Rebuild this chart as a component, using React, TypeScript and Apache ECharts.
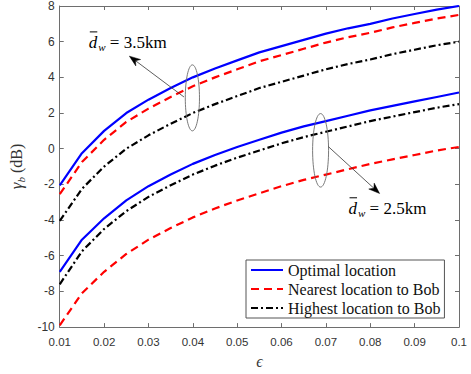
import React, { useEffect, useRef } from 'react';
import * as echarts from 'echarts';

// epsilon values (x axis)
const eps = [0.01, 0.015, 0.02, 0.025, 0.03, 0.035, 0.04, 0.045, 0.05, 0.055, 0.06, 0.065, 0.07, 0.075, 0.08, 0.085, 0.09, 0.095, 0.1];

// d_w = 3.5 km group
const optimal35 = [-2.05, -0.25, 1.0, 2.0, 2.75, 3.4, 4.0, 4.5, 4.95, 5.4, 5.75, 6.1, 6.45, 6.75, 7.0, 7.3, 7.55, 7.8, 8.0];
const nearest35 = [-2.55, -0.75, 0.5, 1.5, 2.25, 2.9, 3.5, 4.0, 4.45, 4.9, 5.25, 5.6, 5.95, 6.25, 6.5, 6.8, 7.05, 7.3, 7.5];
const highest35 = [-4.05, -2.25, -1.0, 0.0, 0.75, 1.4, 2.0, 2.5, 2.95, 3.4, 3.75, 4.1, 4.45, 4.75, 5.0, 5.3, 5.55, 5.8, 6.0];

// d_w = 2.5 km group
const optimal25 = [-6.9, -5.1, -3.9, -2.9, -2.1, -1.45, -0.85, -0.35, 0.1, 0.5, 0.9, 1.25, 1.55, 1.85, 2.15, 2.4, 2.65, 2.9, 3.15];
const nearest25 = [-9.9, -8.1, -6.9, -5.9, -5.1, -4.45, -3.85, -3.35, -2.9, -2.5, -2.1, -1.75, -1.45, -1.15, -0.85, -0.6, -0.35, -0.1, 0.1];
const highest25 = [-7.6, -5.75, -4.5, -3.5, -2.7, -2.05, -1.45, -0.95, -0.5, -0.1, 0.3, 0.65, 0.95, 1.25, 1.55, 1.8, 2.05, 2.3, 2.5];

const legendNames = ['Optimal location', 'Nearest location to Bob', 'Highest location to Bob'];

// annotation anchors in data coordinates
const ellipses = [
  { cx: 0.0399, cy: 2.85, x1: 0.0383, y2: 1.0 },
  { cx: 0.0688, cy: -0.09, x1: 0.0670, y2: -2.15 },
];
const arrows = [
  { from: [0.0380, 2.9], to: [0.0257, 5.19] },
  { from: [0.0705, 0.13], to: [0.0821, -2.51] },
];
const labels = [
  { at: [0.01655, 5.96], value: '3.5km' },
  { at: [0.0751, -3.34], value: '2.5km' },
];

const AXIS_COLOR = '#6e6e6e';
const LABEL_COLOR = '#333333';
const SERIF = '"Liberation Serif", "Times New Roman", serif';
const SANS = '"Liberation Sans", Arial, Helvetica, sans-serif';

const solid = { color: '#0000ff', width: 2.2, type: 'solid' as const };
const dashed = { color: '#ff0000', width: 2.2, type: [8, 5] as any };
const dashDot = { color: '#000000', width: 2.2, type: [7, 3, 2, 3] as any };

function mk(name: string, vals: number[], ls: any) {
  return {
    type: 'line',
    name,
    data: eps.map((e, i) => [e, vals[i]]),
    symbol: 'none',
    showSymbol: false,
    lineStyle: ls,
    itemStyle: { color: ls.color },
    xAxisIndex: 0,
    yAxisIndex: 0,
  };
}

export default function App() {
  const ref = useRef<HTMLDivElement>(null);
  useEffect(() => {
    if (!ref.current) return;
    const chart = echarts.init(ref.current, undefined, { renderer: 'svg' });
    const fmt = (v: number) => String(parseFloat(v.toFixed(3)));
    const option: any = {
      animation: false,
      backgroundColor: '#ffffff',
      grid: { left: 47, right: 12, top: 6, bottom: 41, containLabel: false },
      xAxis: [
        {
          type: 'value', min: 0.01, max: 0.1, interval: 0.01,
          name: 'ϵ', nameLocation: 'middle', nameGap: 21,
          nameTextStyle: { fontFamily: SERIF, fontStyle: 'italic', fontSize: 16, color: LABEL_COLOR },
          axisLine: { show: true, onZero: false, lineStyle: { color: AXIS_COLOR, width: 1 } },
          axisTick: { show: true, inside: true, length: 4, lineStyle: { color: AXIS_COLOR } },
          axisLabel: { margin: 9, fontFamily: SANS, fontSize: 11.5, color: LABEL_COLOR, formatter: fmt },
          splitLine: { show: false },
        },
        {
          type: 'value', position: 'top', min: 0.01, max: 0.1, interval: 0.01,
          axisLine: { show: true, onZero: false, lineStyle: { color: AXIS_COLOR, width: 1 } },
          axisTick: { show: true, inside: true, length: 4, lineStyle: { color: AXIS_COLOR } },
          axisLabel: { show: false },
          splitLine: { show: false },
        },
      ],
      yAxis: [
        {
          type: 'value', min: -10, max: 8, interval: 2,
          name: '{g|γ}{s|b}{n| (dB)}', nameLocation: 'middle', nameGap: 27, nameRotate: 90,
          nameTextStyle: {
            fontFamily: SERIF, fontSize: 16, color: LABEL_COLOR,
            rich: {
              g: { fontFamily: SERIF, fontStyle: 'italic', fontSize: 17, color: LABEL_COLOR, lineHeight: 20 },
              s: { fontFamily: SERIF, fontStyle: 'italic', fontSize: 11, color: LABEL_COLOR, verticalAlign: 'bottom', lineHeight: 20 },
              n: { fontFamily: SERIF, fontSize: 16, color: LABEL_COLOR, lineHeight: 20 },
            },
          },
          axisLine: { show: true, onZero: false, lineStyle: { color: AXIS_COLOR, width: 1 } },
          axisTick: { show: true, inside: true, length: 4, lineStyle: { color: AXIS_COLOR } },
          axisLabel: { margin: 5, fontFamily: SANS, fontSize: 12, color: LABEL_COLOR },
          splitLine: { show: false },
        },
        {
          type: 'value', position: 'right', min: -10, max: 8, interval: 2,
          axisLine: { show: true, onZero: false, lineStyle: { color: AXIS_COLOR, width: 1 } },
          axisTick: { show: true, inside: true, length: 4, lineStyle: { color: AXIS_COLOR } },
          axisLabel: { show: false },
          splitLine: { show: false },
        },
      ],
      legend: {
        data: legendNames,
        orient: 'vertical',
        left: 246,
        top: 260,
        padding: [2, 4, 2, 4],
        itemWidth: 32,
        itemHeight: 14,
        itemGap: 3,
        borderColor: '#555555',
        borderWidth: 1,
        backgroundColor: '#ffffff',
        itemStyle: { opacity: 0 },
        textStyle: { fontFamily: SERIF, fontSize: 16, color: '#111111', lineHeight: 16 },
        selectedMode: false,
      },
      series: [
        mk(legendNames[0], optimal35, solid),
        mk(legendNames[1], nearest35, dashed),
        mk(legendNames[2], highest35, dashDot),
        mk(legendNames[0], optimal25, solid),
        mk(legendNames[1], nearest25, dashed),
        mk(legendNames[2], highest25, dashDot),
      ],
    };
    chart.setOption(option);

    const px = (x: number, y: number) => chart.convertToPixel({ gridIndex: 0 }, [x, y]) as number[];
    const graphics: any[] = [];
    ellipses.forEach((el) => {
      const c = px(el.cx, el.cy);
      const a = px(el.x1, el.cy);
      const b = px(el.cx, el.y2);
      graphics.push({
        type: 'ellipse', z: 10,
        shape: { cx: c[0], cy: c[1], rx: Math.abs(c[0] - a[0]), ry: Math.abs(b[1] - c[1]) },
        style: { fill: 'none', stroke: '#6a6a6a', lineWidth: 0.9 },
      });
    });
    arrows.forEach((ar) => {
      const f = px(ar.from[0], ar.from[1]);
      const t = px(ar.to[0], ar.to[1]);
      const dx = t[0] - f[0], dy = t[1] - f[1];
      const len = Math.sqrt(dx * dx + dy * dy);
      const ux = dx / len, uy = dy / len;
      const hl = 11, hw = 4;
      const bx = t[0] - ux * hl, by = t[1] - uy * hl;
      const nx = t[0] - ux * hl * 0.7, ny = t[1] - uy * hl * 0.7;
      graphics.push({
        type: 'line', z: 10,
        shape: { x1: f[0], y1: f[1], x2: nx, y2: ny },
        style: { stroke: '#333333', lineWidth: 0.8 },
      });
      graphics.push({
        type: 'polygon', z: 10,
        shape: { points: [[t[0], t[1]], [bx - uy * hw, by + ux * hw], [nx, ny], [bx + uy * hw, by - ux * hw]] },
        style: { fill: '#000000', stroke: '#000000', lineWidth: 0.5 },
      });
    });
    labels.forEach((lb) => {
      const p = px(lb.at[0], lb.at[1]);
      const L = p[0], C = p[1];
      graphics.push({
        type: 'text', z: 10, x: L, y: C,
        style: { text: 'd', font: `italic 17px ${SERIF}`, fill: '#000', align: 'left', verticalAlign: 'middle' },
      });
      graphics.push({
        type: 'line', z: 10,
        shape: { x1: L + 1, y1: C - 10.5, x2: L + 8.5, y2: C - 10.5 },
        style: { stroke: '#000', lineWidth: 1 },
      });
      graphics.push({
        type: 'text', z: 10, x: L + 9.5, y: C + 4.5,
        style: { text: 'w', font: `italic 11px ${SERIF}`, fill: '#000', align: 'left', verticalAlign: 'middle' },
      });
      graphics.push({
        type: 'text', z: 10, x: L + 21, y: C,
        style: { text: '= ' + lb.value, font: `17px ${SERIF}`, fill: '#000', align: 'left', verticalAlign: 'middle' },
      });
    });
    chart.setOption({ graphic: graphics });

    return () => chart.dispose();
  }, []);
  return <div ref={ref} style={{ width: 471, height: 374, position: 'absolute', left: 0, top: 0 }} />;
}
